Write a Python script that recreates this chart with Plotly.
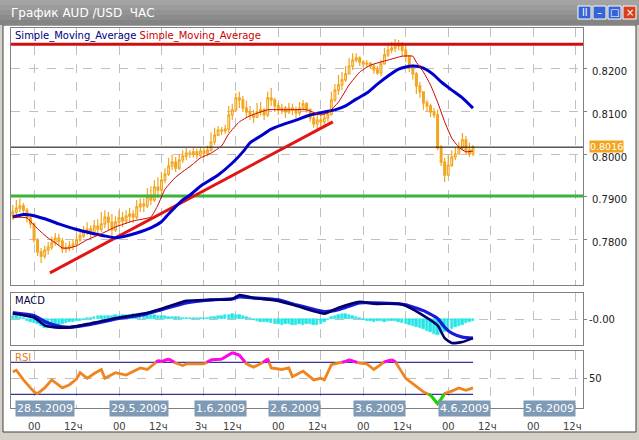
import plotly.graph_objects as go

# ---------------- DATA ----------------
bar_idx = list(range(131))  # hourly bars, 27.5.2009 18:00 .. 4.6.2009 ~07:00

opens = [0.7858, 0.7865, 0.7874, 0.7879, 0.7869, 0.7851, 0.7837, 0.7800, 0.7772, 0.7762,
         0.7776, 0.7783, 0.7793, 0.7804, 0.7797, 0.7779, 0.7781, 0.7786, 0.7790, 0.7800,
         0.7809, 0.7818, 0.7825, 0.7816, 0.7832, 0.7825, 0.7837, 0.7853, 0.7841, 0.7823,
         0.7841, 0.7851, 0.7844, 0.7855, 0.7860, 0.7853, 0.7877, 0.7883, 0.7879, 0.7900,
         0.7893, 0.7923, 0.7916, 0.7939, 0.7953, 0.7972, 0.7981, 0.7967, 0.7986, 0.7995,
         0.8002, 0.8000, 0.8005, 0.7998, 0.8007, 0.8002, 0.8009, 0.8028, 0.8044, 0.8056,
         0.8054, 0.8058, 0.8091, 0.8103, 0.8131, 0.8126, 0.8107, 0.8098, 0.8091, 0.8086,
         0.8098, 0.8103, 0.8091, 0.8131, 0.8126, 0.8112, 0.8103, 0.8107, 0.8098, 0.8107,
         0.8103, 0.8096, 0.8107, 0.8117, 0.8103, 0.8084, 0.8070, 0.8079, 0.8075, 0.8084,
         0.8093, 0.8126, 0.8149, 0.8161, 0.8173, 0.8187, 0.8205, 0.8219, 0.8224, 0.8214,
         0.8210, 0.8212, 0.8205, 0.8196, 0.8189, 0.8210, 0.8231, 0.8242, 0.8247, 0.8254,
         0.8252, 0.8242, 0.8228, 0.8205, 0.8187, 0.8159, 0.8145, 0.8119, 0.8112, 0.8098,
         0.8091, 0.8014, 0.7981, 0.7951, 0.7974, 0.7993, 0.8000, 0.8014, 0.8033, 0.8009, 0.8000]

highs = [0.7881, 0.7893, 0.7897, 0.7886, 0.7874, 0.7858, 0.7841, 0.7804, 0.7781, 0.7786,
         0.7795, 0.7807, 0.7816, 0.7814, 0.7804, 0.7793, 0.7797, 0.7800, 0.7814, 0.7823,
         0.7832, 0.7841, 0.7834, 0.7846, 0.7848, 0.7865, 0.7869, 0.7865, 0.7860, 0.7855,
         0.7869, 0.7865, 0.7869, 0.7874, 0.7869, 0.7893, 0.7897, 0.7897, 0.7921, 0.7925,
         0.7939, 0.7946, 0.7958, 0.7967, 0.7991, 0.7998, 0.7993, 0.8000, 0.8009, 0.8014,
         0.8009, 0.8014, 0.8012, 0.8016, 0.8014, 0.8019, 0.8051, 0.8061, 0.8065, 0.8063,
         0.8068, 0.8112, 0.8117, 0.8142, 0.8145, 0.8135, 0.8124, 0.8112, 0.8103, 0.8119,
         0.8121, 0.8107, 0.8145, 0.8154, 0.8131, 0.8119, 0.8117, 0.8112, 0.8119, 0.8117,
         0.8110, 0.8121, 0.8126, 0.8121, 0.8107, 0.8098, 0.8093, 0.8098, 0.8096, 0.8103,
         0.8145, 0.8163, 0.8184, 0.8191, 0.8205, 0.8224, 0.8235, 0.8235, 0.8228, 0.8219,
         0.8219, 0.8214, 0.8210, 0.8205, 0.8219, 0.8247, 0.8256, 0.8261, 0.8268, 0.8266,
         0.8261, 0.8256, 0.8228, 0.8210, 0.8191, 0.8168, 0.8145, 0.8126, 0.8117, 0.8107,
         0.8103, 0.8021, 0.7991, 0.7998, 0.8009, 0.8016, 0.8028, 0.8049, 0.8042, 0.8026, 0.8021]

lows = [0.7846, 0.7858, 0.7865, 0.7855, 0.7841, 0.7827, 0.7793, 0.7762, 0.7746, 0.7756,
        0.7765, 0.7776, 0.7786, 0.7788, 0.7769, 0.7769, 0.7774, 0.7776, 0.7783, 0.7795,
        0.7804, 0.7811, 0.7804, 0.7809, 0.7814, 0.7818, 0.7827, 0.7823, 0.7807, 0.7818,
        0.7832, 0.7830, 0.7837, 0.7841, 0.7839, 0.7848, 0.7865, 0.7865, 0.7874, 0.7881,
        0.7888, 0.7897, 0.7907, 0.7932, 0.7949, 0.7963, 0.7958, 0.7963, 0.7979, 0.7986,
        0.7991, 0.7991, 0.7988, 0.7993, 0.7991, 0.7995, 0.8005, 0.8021, 0.8042, 0.8044,
        0.8047, 0.8051, 0.8079, 0.8098, 0.8107, 0.8098, 0.8084, 0.8079, 0.8072, 0.8084,
        0.8089, 0.8079, 0.8086, 0.8112, 0.8098, 0.8091, 0.8093, 0.8084, 0.8093, 0.8091,
        0.8084, 0.8089, 0.8103, 0.8096, 0.8075, 0.8061, 0.8056, 0.8065, 0.8068, 0.8075,
        0.8089, 0.8121, 0.8138, 0.8149, 0.8168, 0.8187, 0.8196, 0.8214, 0.8205, 0.8203,
        0.8203, 0.8198, 0.8187, 0.8184, 0.8182, 0.8210, 0.8226, 0.8235, 0.8238, 0.8242,
        0.8228, 0.8214, 0.8191, 0.8173, 0.8140, 0.8131, 0.8103, 0.8098, 0.8086, 0.8084,
        0.8009, 0.7972, 0.7935, 0.7951, 0.7970, 0.7986, 0.7998, 0.8009, 0.8000, 0.7993, 0.7995]

closes = [0.7865, 0.7874, 0.7879, 0.7869, 0.7851, 0.7837, 0.7800, 0.7772, 0.7762, 0.7776,
          0.7783, 0.7793, 0.7804, 0.7797, 0.7779, 0.7781, 0.7786, 0.7790, 0.7800, 0.7809,
          0.7818, 0.7825, 0.7816, 0.7832, 0.7825, 0.7837, 0.7853, 0.7841, 0.7823, 0.7841,
          0.7851, 0.7844, 0.7855, 0.7860, 0.7853, 0.7877, 0.7883, 0.7879, 0.7900, 0.7893,
          0.7923, 0.7916, 0.7939, 0.7953, 0.7972, 0.7981, 0.7967, 0.7986, 0.7995, 0.8002,
          0.8000, 0.8005, 0.7998, 0.8007, 0.8002, 0.8009, 0.8028, 0.8044, 0.8056, 0.8054,
          0.8058, 0.8091, 0.8103, 0.8131, 0.8126, 0.8107, 0.8098, 0.8091, 0.8086, 0.8098,
          0.8103, 0.8091, 0.8131, 0.8126, 0.8112, 0.8103, 0.8107, 0.8098, 0.8107, 0.8103,
          0.8096, 0.8107, 0.8117, 0.8103, 0.8084, 0.8070, 0.8079, 0.8075, 0.8084, 0.8093,
          0.8126, 0.8149, 0.8161, 0.8173, 0.8187, 0.8205, 0.8219, 0.8224, 0.8214, 0.8210,
          0.8212, 0.8205, 0.8196, 0.8189, 0.8210, 0.8231, 0.8242, 0.8247, 0.8254, 0.8252,
          0.8242, 0.8228, 0.8205, 0.8187, 0.8159, 0.8145, 0.8119, 0.8112, 0.8098, 0.8091,
          0.8014, 0.7981, 0.7951, 0.7974, 0.7993, 0.8000, 0.8014, 0.8033, 0.8009, 0.8000, 0.8016]

# slow SMA (blue)
sma_slow_x = [0, 3, 5, 9, 13, 18, 22, 26, 29, 32, 35, 39, 42, 44, 48, 50, 53, 58, 62, 65,
              67, 70, 73, 76, 80, 84, 88, 91, 94, 97, 100, 103, 106, 109, 111, 113, 115, 117,
              119, 121, 124, 127, 130]
sma_slow = [0.7853, 0.7859, 0.7858, 0.7849, 0.7837, 0.7824, 0.7816, 0.7809, 0.7805, 0.7809,
            0.7816, 0.7828, 0.7842, 0.7860, 0.7893, 0.7904, 0.7925, 0.7951, 0.7979, 0.8005,
            0.8026, 0.8042, 0.8058, 0.8068, 0.8079, 0.8091, 0.8098, 0.8103, 0.8112, 0.8128,
            0.8142, 0.8163, 0.8182, 0.8198, 0.8203, 0.8205, 0.8203, 0.8196, 0.8184, 0.8168,
            0.8149, 0.8131, 0.8107]

# fast SMA (thin red)
sma_fast_x = [0, 4, 6, 8, 10, 12, 14, 16, 18, 21, 25, 29, 34, 39, 41, 43, 46, 51, 53, 56,
              59, 61, 64, 67, 72, 77, 83, 87, 89, 92, 95, 98, 101, 106, 110, 113, 114, 116,
              118, 120, 122, 124, 126, 128, 130]
sma_fast = [0.7853, 0.7851, 0.7834, 0.7818, 0.7804, 0.7793, 0.7781, 0.7781, 0.7786, 0.7800,
            0.7814, 0.7830, 0.7844, 0.7853, 0.7881, 0.7918, 0.7946, 0.7977, 0.7991, 0.8002,
            0.8019, 0.8047, 0.8075, 0.8089, 0.8103, 0.8103, 0.8103, 0.8091, 0.8096, 0.8121,
            0.8161, 0.8191, 0.8207, 0.8219, 0.8228, 0.8228, 0.8214, 0.8191, 0.8161, 0.8121,
            0.8075, 0.8037, 0.8016, 0.8005, 0.8007]

trend_x = [10.5, 90.4]
trend_v = [0.7723, 0.8075]
resistance_level = 0.8256
support_level = 0.7902
last_price = 0.8016
price_ticks = [0.7800, 0.7900, 0.8000, 0.8100, 0.8200]

macd_x = [0, 2, 6, 9, 12, 16, 22, 30, 37, 42, 49, 56, 62, 64, 68, 75, 80, 88, 92, 98,
          102, 109, 111, 116, 120, 122, 124, 127, 130]
macd_main = [0.00055, 0.00045, 0.00015, -0.00065, -0.00085, -0.00085, -0.00045, 0.00015,
             0.00055, 0.00105, 0.00185, 0.00195, 0.00205, 0.00245, 0.00215, 0.00185,
             0.00135, 0.00055, 0.00115, 0.00175, 0.00155, 0.00155, 0.00135, 0.00035,
             -0.00065, -0.00195, -0.00245, -0.00235, -0.00195]
macd_signal = [0.00065, 0.00055, 0.00035, -0.00025, -0.00065, -0.00085, -0.00055, 0.00005,
               0.00045, 0.00095, 0.00165, 0.00195, 0.00205, 0.00225, 0.00215, 0.00195,
               0.00145, 0.00075, 0.00095, 0.00165, 0.00165, 0.00155, 0.00145, 0.00085,
               0.00005, -0.00085, -0.00145, -0.00185, -0.00195]
macd_hist = [0.0003, 0.0003, 0.0002, 0.0001,
             -0.0002, -0.0003, -0.0004, -0.0005,
             -0.0007, -0.0009, -0.0009, -0.0008,
             -0.0007, -0.0006, -0.0005, -0.0004,
             -0.0003, -0.0003, -0.0002, -0.0002, -0.0001, 0.0001, 0.0001,
             0.0002, 0.0003, 0.0003, 0.0003, 0.0003, 0.0003, 0.0004, 0.0003,
             0.0004, 0.0004, 0.0004, 0.0005, 0.0004, 0.0004, 0.0005, 0.0004, 0.0004, 0.0004,
             0.0003, 0.0003, 0.0003, 0.0002, 0.0002, 0.0002, 0.0002, 0.0001,
             0.0001, 0.0001, 0.0001, 0.0001, 0.0001, 0.0001, 0.0001, 0.0002, 0.0002, 0.0003,
             0.0003, 0.0004,
             0.0004, 0.0005, 0.0004, 0.0004, 0.0003, 0.0002, 0.0001,
             -0.0001, -0.0002, -0.0003, -0.0003, -0.0003, -0.0004, -0.0005, -0.0005, -0.0006,
             -0.0005, -0.0005, -0.0006, -0.0006, -0.0005, -0.0006, -0.0005, -0.0005, -0.0006,
             -0.0006, -0.0005, -0.0003,
             -0.0001, 0.0002,
             0.0003, 0.0004, 0.0005, 0.0005, 0.0004, 0.0003, 0.0002, 0.0001,
             -0.0001, -0.0002, -0.0002, -0.0003, -0.0002, -0.0002, -0.0003, -0.0002, -0.0002,
             -0.0002, -0.0003, -0.0004, -0.0005,
             -0.0006, -0.0007, -0.0008, -0.0009, -0.0010,
             -0.0012, -0.0013, -0.0015, -0.0016, -0.0015, -0.0013, -0.0011,
             -0.0010, -0.0008, -0.0007, -0.0006, -0.0004, -0.0003, -0.0002]

rsi_x = [0, 1, 3, 6, 7, 9, 11, 14, 16, 18, 19, 21, 23, 24, 25, 26, 29, 32, 36, 38,
         41, 42, 44, 46, 48, 49, 54, 56, 59, 62, 64, 66, 68, 70, 72, 73, 76, 78, 79, 82,
         85, 87, 88, 90, 92, 94, 95, 98, 100, 102, 105, 107, 108, 111, 114, 116, 118, 119,
         120, 121, 122, 124, 126, 128, 130]
rsi = [58, 60, 48, 33, 31, 38, 48, 38, 42, 49, 57, 50, 56, 58, 61, 50, 57, 54, 63, 61,
       72, 71, 74, 69, 66, 68, 68, 73, 74, 82, 79, 68, 64, 68, 74, 63, 61, 63, 52, 59,
       48, 50, 48, 67, 69, 71, 73, 69, 68, 61, 70.5, 73, 71, 50, 40, 33, 29, 24, 18, 24,
       31, 34, 38, 35, 38]
rsi_upper, rsi_lower = 70, 30

grid_ticks = [6, 18, 30, 42, 54, 63, 75, 87, 99, 111, 123, 135, 147, 159]
hour_labels = ["00", "12ч", "00", "12ч", "3ч", "12ч", "00", "12ч", "00", "12ч", "00", "12ч", "00", "12ч"]
date_labels = ["28.5.2009", "29.5.2009", "1.6.2009", "2.6.2009", "3.6.2009", "4.6.2009", "5.6.2009"]
date_pos = [9.0, 35.6, 58.7, 79.7, 103.7, 127.6, 151.5]

# ---------------- STYLE / LAYOUT ----------------
W, H = 639, 440
L, R, T, B = 11, 583, 28, 408


def PX(x):
    return (x - L) / (R - L)


def PY(y):
    return (B - y) / (B - T)


ORANGE = "#F2A51E"
GRID = "#C0C0C0"
FRAME = "#808080"
FONT = "DejaVu Sans"

fig = go.Figure()

fig.add_trace(go.Candlestick(
    x=bar_idx, open=opens, high=highs, low=lows, close=closes,
    increasing=dict(line=dict(color=ORANGE, width=1.2), fillcolor="#FFFFFF"),
    decreasing=dict(line=dict(color=ORANGE, width=1.2), fillcolor=ORANGE),
    whiskerwidth=0, xaxis="x", yaxis="y", showlegend=False, hoverinfo="skip"))

xfull = [-0.6, 161.2]
for lvl, col, wdt in [(resistance_level, "#CC1010", 3), (support_level, "#3CB43C", 3),
                      (last_price, "#000000", 1)]:
    fig.add_trace(go.Scatter(x=xfull, y=[lvl, lvl], mode="lines",
                             line=dict(color=col, width=wdt), xaxis="x", yaxis="y",
                             showlegend=False, hoverinfo="skip"))

fig.add_trace(go.Scatter(x=trend_x, y=trend_v, mode="lines", line=dict(color="#E01515", width=3),
                         xaxis="x", yaxis="y", showlegend=False, hoverinfo="skip"))
fig.add_trace(go.Scatter(x=sma_slow_x, y=sma_slow, mode="lines",
                         line=dict(color="#0000CC", width=3, shape="spline", smoothing=0.5),
                         xaxis="x", yaxis="y", showlegend=False, hoverinfo="skip"))
fig.add_trace(go.Scatter(x=sma_fast_x, y=sma_fast, mode="lines",
                         line=dict(color="#CC0000", width=1, shape="spline", smoothing=0.4),
                         xaxis="x", yaxis="y", showlegend=False, hoverinfo="skip"))

# MACD
fig.add_trace(go.Bar(x=bar_idx, y=macd_hist, width=0.7,
                     marker=dict(color="#22E6E6", line=dict(width=0.6, color="#22E6E6")),
                     xaxis="x2", yaxis="y2", showlegend=False, hoverinfo="skip"))
fig.add_trace(go.Scatter(x=macd_x, y=macd_signal, mode="lines",
                         line=dict(color="#1A1AD8", width=3.2, shape="spline", smoothing=0.5),
                         xaxis="x2", yaxis="y2", showlegend=False, hoverinfo="skip"))
fig.add_trace(go.Scatter(x=macd_x, y=macd_main, mode="lines",
                         line=dict(color="#00006E", width=2.6, shape="spline", smoothing=0.5),
                         xaxis="x2", yaxis="y2", showlegend=False, hoverinfo="skip"))

# RSI
for lvl in (rsi_upper, rsi_lower):
    fig.add_trace(go.Scatter(x=[-0.6, 130], y=[lvl, lvl], mode="lines",
                             line=dict(color="#000080", width=1), xaxis="x3", yaxis="y3",
                             showlegend=False, hoverinfo="skip"))
fig.add_trace(go.Scatter(x=rsi_x, y=rsi, mode="lines", line=dict(color="#F08420", width=2.8),
                         xaxis="x3", yaxis="y3", showlegend=False, hoverinfo="skip"))


def clip(xs, ys, thr, above):
    ox, oy = [], []
    for k in range(len(xs) - 1):
        x0, y0, x1, y1 = xs[k], ys[k], xs[k + 1], ys[k + 1]
        a0 = y0 >= thr if above else y0 <= thr
        a1 = y1 >= thr if above else y1 <= thr
        if not (a0 or a1):
            continue
        if a0 and a1:
            seg = [(x0, y0), (x1, y1)]
        else:
            t = (thr - y0) / (y1 - y0)
            xc = x0 + t * (x1 - x0)
            seg = [(x0, y0), (xc, thr)] if a0 else [(xc, thr), (x1, y1)]
        for p in seg:
            ox.append(p[0]); oy.append(p[1])
        ox.append(None); oy.append(None)
    return ox, oy


mx, my = clip(rsi_x, rsi, rsi_upper, True)
fig.add_trace(go.Scatter(x=mx, y=my, mode="lines", line=dict(color="#FF00FF", width=2.8),
                         xaxis="x3", yaxis="y3", showlegend=False, hoverinfo="skip", connectgaps=False))
gx, gy = clip(rsi_x, rsi, rsi_lower, False)
fig.add_trace(go.Scatter(x=gx, y=gy, mode="lines", line=dict(color="#00DD00", width=2.8),
                         xaxis="x3", yaxis="y3", showlegend=False, hoverinfo="skip", connectgaps=False))

xr = [(L - 12.8) / 3.54, (R - 12.8) / 3.54]
xcommon = dict(range=xr, tickvals=grid_ticks, showticklabels=False, showgrid=True, gridcolor=GRID,
               griddash="dash", gridwidth=1, ticks="", showline=True, mirror=True, linecolor=FRAME,
               zeroline=False, fixedrange=True)
ycommon = dict(side="right", showgrid=True, gridcolor=GRID, griddash="dash", ticks="outside",
               ticklen=3, tickcolor=FRAME, showline=True, mirror=True, linecolor=FRAME,
               zeroline=False, tickfont=dict(family=FONT, size=10, color="#202020"), fixedrange=True)

fig.update_layout(
    width=W, height=H, autosize=False,
    margin=dict(l=L, r=W - R, t=T, b=H - B, pad=0),
    paper_bgcolor="white", plot_bgcolor="white",
    showlegend=False, bargap=0,
    xaxis=dict(**xcommon, anchor="y", domain=[0, 1], rangeslider=dict(visible=False)),
    xaxis2=dict(**xcommon, anchor="y2", domain=[0, 1], matches="x"),
    xaxis3=dict(**xcommon, anchor="y3", domain=[0, 1], matches="x"),
    yaxis=dict(**ycommon, domain=[PY(285), PY(T)],
               range=[0.83590 - 0.0002331 * 285, 0.83590 - 0.0002331 * 28],
               tickvals=price_ticks, showticklabels=False),
    yaxis2=dict(**ycommon, domain=[PY(345), PY(293)], range=[-0.00265, 0.00265],
                tickvals=[0], ticktext=["-0.00"]),
    yaxis3=dict(**ycommon, domain=[0, PY(351)], range=[12.9, 84.1],
                tickvals=[50], ticktext=["50"]),
)

shapes = []
ann = []
# price scale labels (sit slightly below their gridlines, as in the terminal)
for pv in price_ticks:
    ann.append(dict(text="%.4f" % pv, xref="paper", yref="y", x=PX(590), y=pv, xanchor="left",
                    yanchor="middle", yshift=-3, showarrow=False,
                    font=dict(family=FONT, size=10, color="#202020")))
# window frame outside the content area
frame_fill = "#D4D0C8"
shapes.append(dict(type="rect", xref="paper", yref="paper", x0=PX(0), x1=PX(3), y0=PY(440), y1=PY(0),
                   fillcolor=frame_fill, line=dict(width=0), layer="above"))
shapes.append(dict(type="rect", xref="paper", yref="paper", x0=PX(636), x1=PX(639), y0=PY(440), y1=PY(0),
                   fillcolor=frame_fill, line=dict(width=0), layer="above"))
shapes.append(dict(type="rect", xref="paper", yref="paper", x0=PX(0), x1=PX(639), y0=PY(440), y1=PY(432),
                   fillcolor=frame_fill, line=dict(width=0), layer="above"))
shapes.append(dict(type="rect", xref="paper", yref="paper", x0=PX(3), x1=PX(636), y0=PY(432), y1=PY(25),
                   fillcolor="rgba(0,0,0,0)", line=dict(color="#404040", width=1), layer="above"))
# title bar gradient
tb_cols = ["#A4A4A4", "#9C9C9C", "#949494", "#8C8C8C", "#848484"]
for k, c in enumerate(tb_cols):
    shapes.append(dict(type="rect", xref="paper", yref="paper", x0=PX(0), x1=PX(639),
                       y0=PY(5 * (k + 1)), y1=PY(5 * k), fillcolor=c, line=dict(width=0), layer="above"))
ann.append(dict(text="График AUD /USD  ЧАС", xref="paper", yref="paper", x=PX(9), y=PY(13),
                xanchor="left", yanchor="middle", showarrow=False,
                font=dict(family=FONT, size=12, color="white")))
# window buttons
btns = [(578, "#3565D5", "ll"), (593, "#3565D5", "–"), (608, "#3565D5", "□"), (623, "#D8401C", "×")]
for bx, bc, sym in btns:
    shapes.append(dict(type="rect", xref="paper", yref="paper", x0=PX(bx), x1=PX(bx + 13),
                       y0=PY(19), y1=PY(6), fillcolor=bc, line=dict(color="white", width=1), layer="above"))
    ann.append(dict(text=sym, xref="paper", yref="paper", x=PX(bx + 6.5), y=PY(12.5), showarrow=False,
                    font=dict(family=FONT, size=10, color="white"), xanchor="center", yanchor="middle"))

# panel labels
ann.append(dict(text="<span style='color:#000080'>Simple_Moving_Average</span> "
                     "<span style='color:#CC0000'>Simple_Moving_Average</span>",
                xref="paper", yref="paper", x=PX(13), y=PY(36), xanchor="left", yanchor="middle",
                showarrow=False, font=dict(family=FONT, size=10)))
ann.append(dict(text="MACD", xref="paper", yref="paper", x=PX(13), y=PY(300), xanchor="left",
                yanchor="middle", showarrow=False, font=dict(family=FONT, size=10, color="#000040")))
ann.append(dict(text="RSI", xref="paper", yref="paper", x=PX(13), y=PY(357), xanchor="left",
                yanchor="middle", showarrow=False, font=dict(family=FONT, size=10, color="#E08020")))
# last price box
ann.append(dict(text="%.4f" % last_price, xref="paper", yref="y", x=PX(589), y=last_price,
                xanchor="left", yanchor="middle", showarrow=False, bgcolor=ORANGE, borderpad=0,
                yshift=1, font=dict(family=FONT, size=9.5, color="white")))
# time axis
for tv, lab in zip(grid_ticks, hour_labels):
    ann.append(dict(text=lab, xref="x3", yref="paper", x=tv, y=PY(426), xanchor="center",
                    yanchor="middle", showarrow=False, xshift=(-3 if "ч" in lab else 0),
                    font=dict(family=FONT, size=10, color="#404040")))
for dp, dl in zip(date_pos, date_labels):
    ann.append(dict(text=dl, xref="x3", yref="paper", x=dp, y=PY(408.5), xanchor="center",
                    yanchor="middle", showarrow=False, bgcolor="#7F9AB5", borderpad=1,
                    font=dict(family=FONT, size=11, color="white")))

fig.update_layout(shapes=shapes, annotations=ann)
fig.write_html("out.html", config={"displayModeBar": False},
               post_script="document.body.style.margin='0px';document.body.style.overflow='hidden';")
